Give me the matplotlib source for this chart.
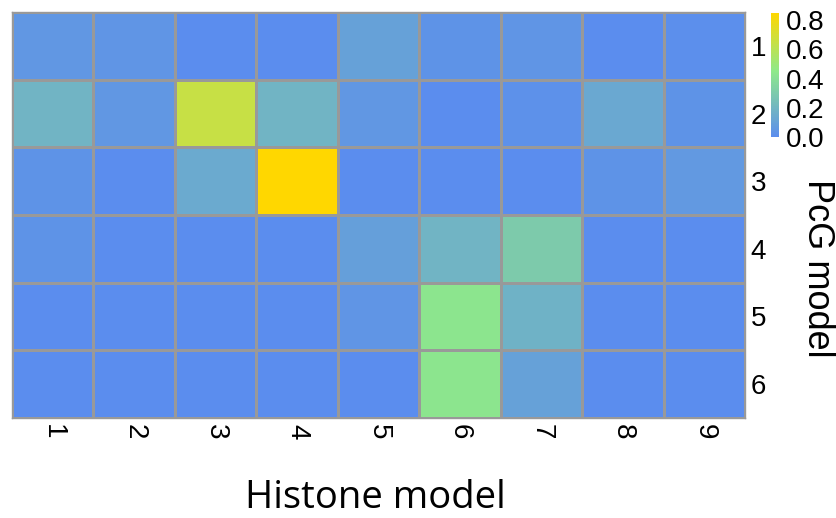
import matplotlib.pyplot as plt
import numpy as np
from matplotlib.colors import LinearSegmentedColormap

histone_models = ['1', '2', '3', '4', '5', '6', '7', '8', '9']
pcg_models = ['1', '2', '3', '4', '5', '6']
overlap = np.array([
    [0.05, 0.04, 0.00, 0.00, 0.10, 0.03, 0.04, 0.00, 0.01],
    [0.19, 0.05, 0.65, 0.19, 0.05, 0.00, 0.02, 0.13, 0.03],
    [0.03, 0.00, 0.14, 0.85, 0.00, 0.00, 0.00, 0.03, 0.06],
    [0.03, 0.00, 0.00, 0.00, 0.09, 0.19, 0.30, 0.00, 0.00],
    [0.00, 0.00, 0.00, 0.00, 0.04, 0.43, 0.18, 0.00, 0.00],
    [0.00, 0.00, 0.00, 0.00, 0.00, 0.43, 0.10, 0.00, 0.00],
])
cbar_ticks = [0.0, 0.2, 0.4, 0.6, 0.8]

vmax = 0.85
cmap = LinearSegmentedColormap.from_list(
    'pcg', [(0.0, '#5b8dee'), (0.45 / vmax, '#8ee98a'), (1.0, '#ffd700')])

fig = plt.figure(figsize=(8.36, 5.18), dpi=100)
ax = fig.add_axes([12 / 836, 100 / 518, 733 / 836, 406 / 518])
mesh = ax.pcolormesh(overlap, cmap=cmap, vmin=0, vmax=vmax,
                     edgecolors='#999999', linewidth=1)
ax.set_xlim(0, len(histone_models))
ax.set_ylim(len(pcg_models), 0)
for s in ax.spines.values():
    s.set_color('#999999')
    s.set_linewidth(1)

ax.set_xticks(np.arange(len(histone_models)) + 0.5)
ax.set_xticklabels(histone_models, rotation=270, fontsize=20,
                   family='Liberation Sans')
ax.set_yticks(np.arange(len(pcg_models)) + 0.5)
ax.set_yticklabels(pcg_models, fontsize=20, family='Liberation Sans')
ax.yaxis.tick_right()
ax.tick_params(length=0, pad=4)

fig.text(375 / 836, 1 - 498 / 518, 'Histone model', ha='center', va='center',
         fontsize=27.5, family='Open Sans')
fig.text(817 / 836, 1 - 268 / 518, 'PcG model', ha='center', va='center',
         rotation=270, fontsize=26, family='Liberation Sans')

cax = fig.add_axes([771 / 836, 1 - 137 / 518, 8 / 836, 124 / 518])
cb = fig.colorbar(mesh, cax=cax, ticks=cbar_ticks)
cb.outline.set_visible(False)
cb.ax.tick_params(length=0, pad=5, labelsize=20)
for t in cb.ax.get_yticklabels():
    t.set_family('Liberation Sans')

plt.savefig('out.png', dpi=100)
plt.close()
